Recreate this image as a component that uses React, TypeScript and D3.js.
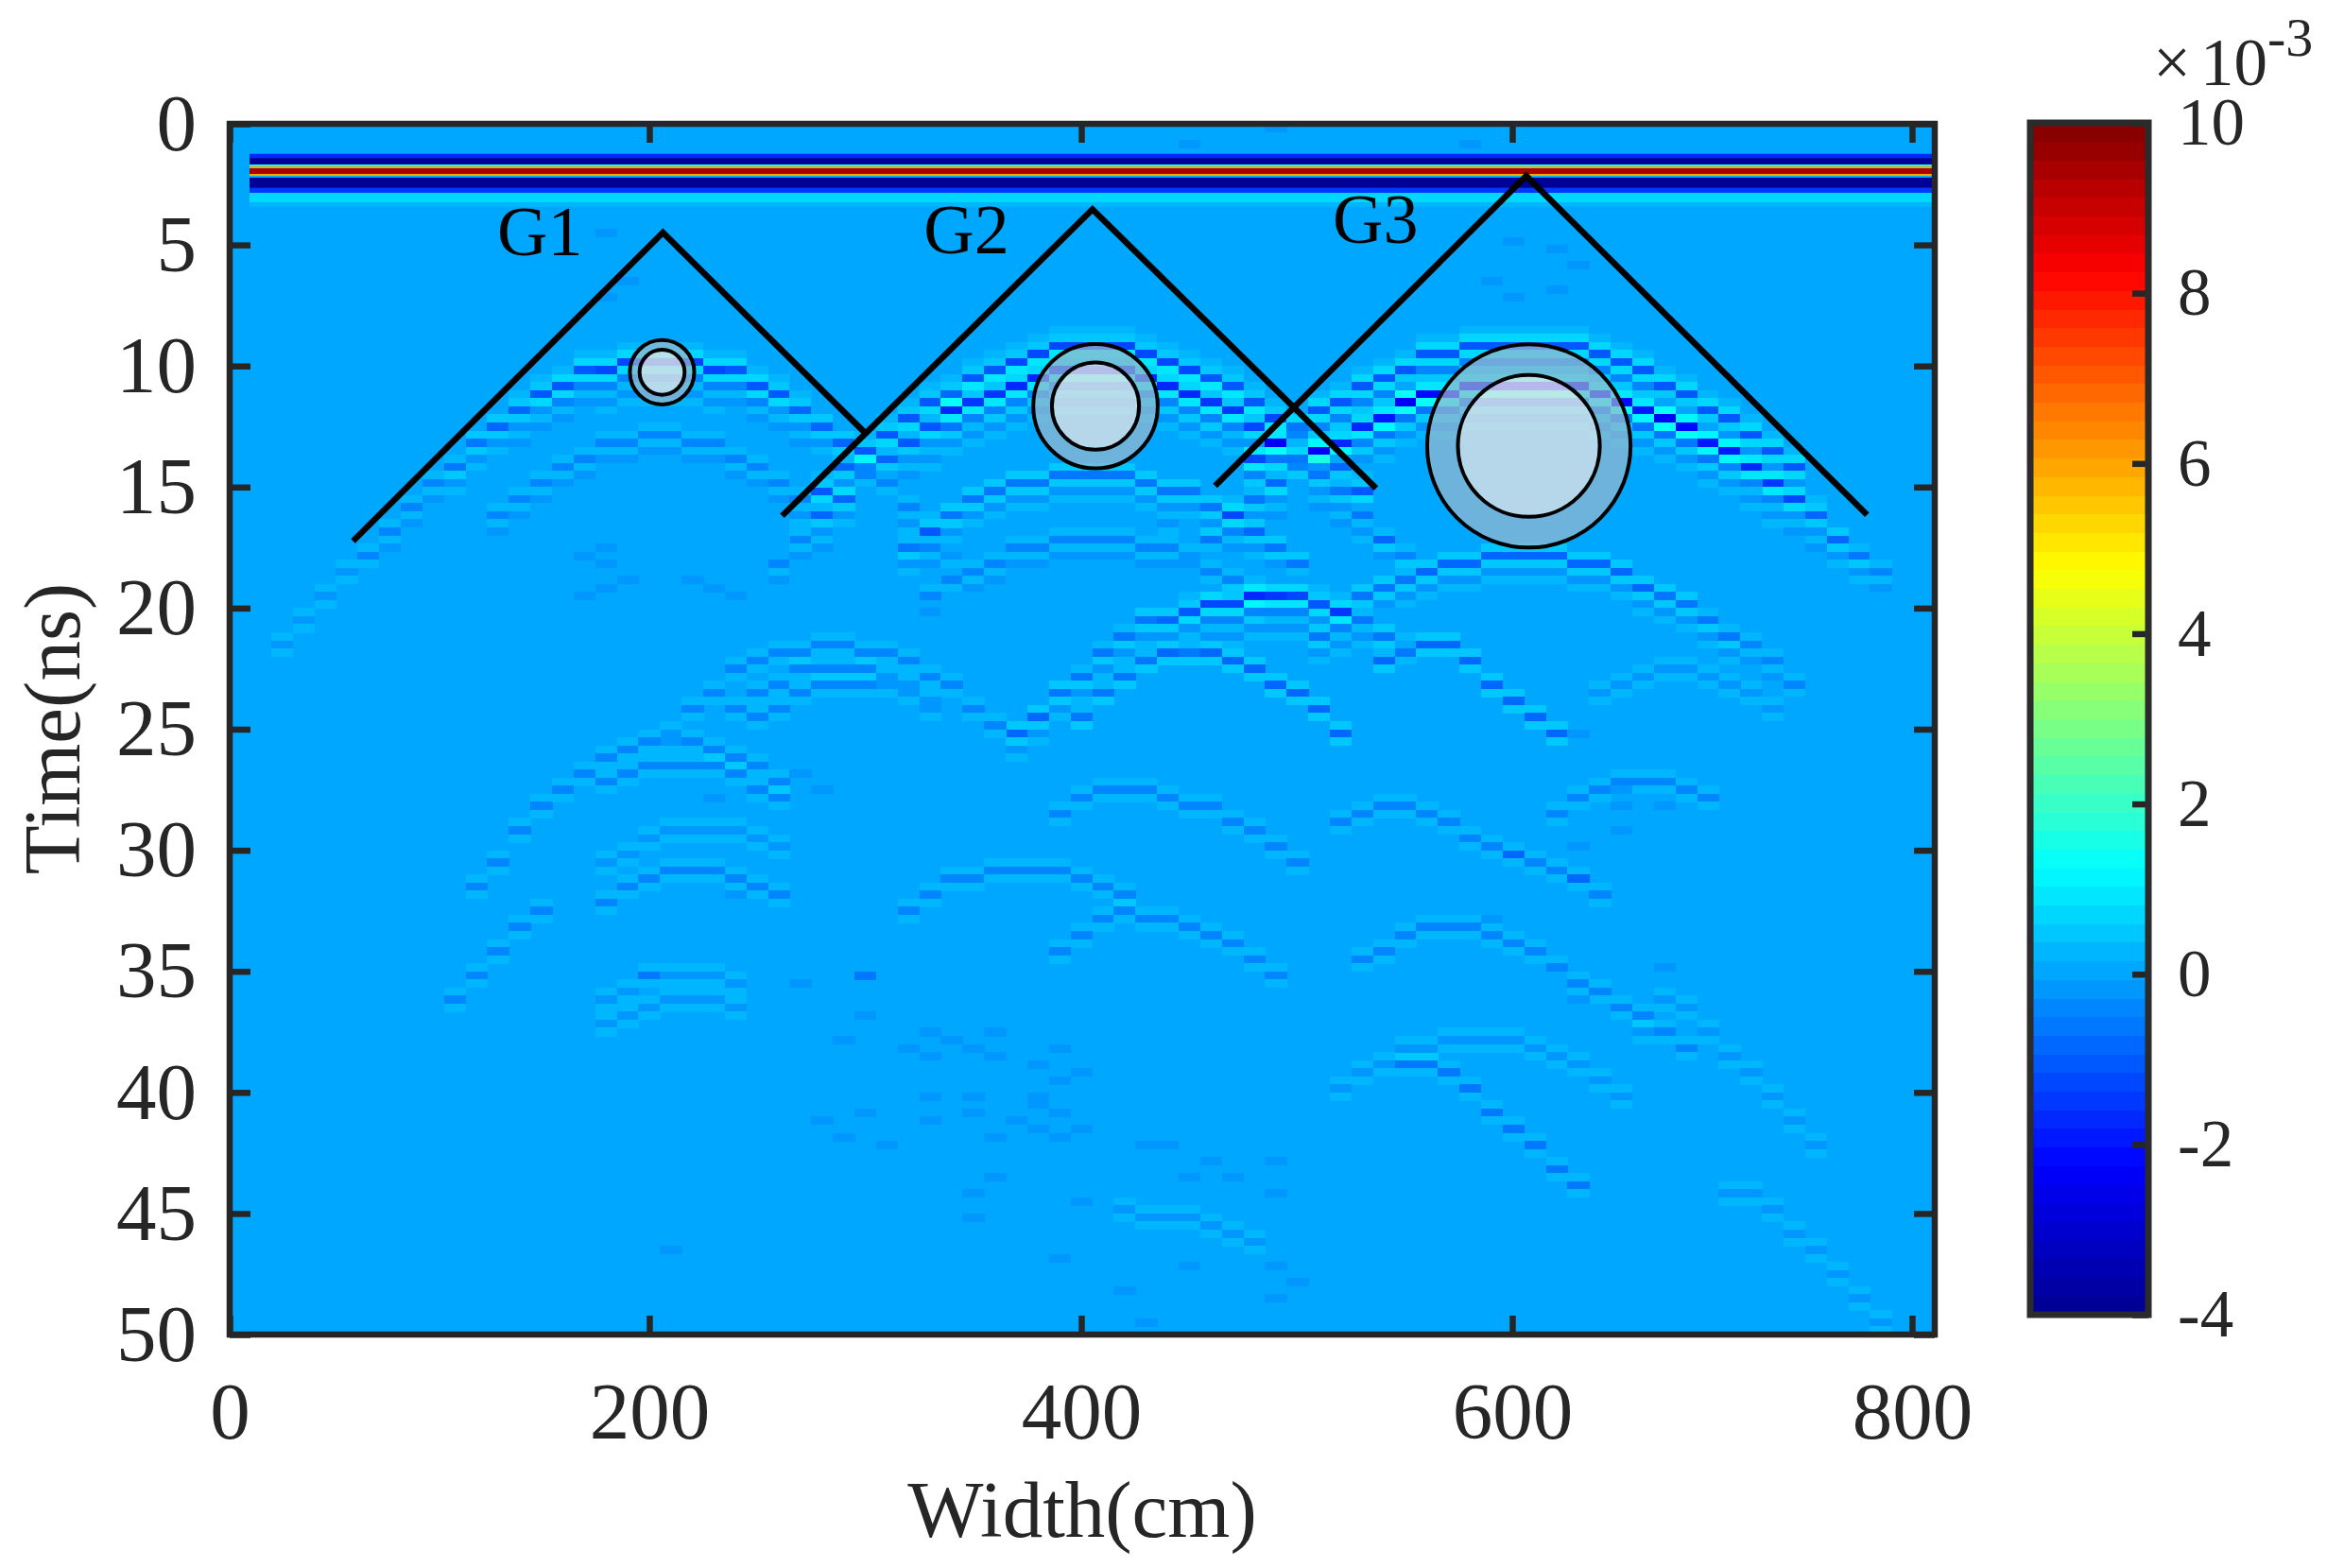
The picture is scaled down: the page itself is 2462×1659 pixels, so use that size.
import { useEffect, useRef } from "react";
import * as d3 from "d3";

type Track = { first: number; times: number[]; amps: number | number[] };

const xTicks = [0, 200, 400, 600, 800];
const yTicks = [0, 5, 10, 15, 20, 25, 30, 35, 40, 45, 50];
const colorTicks = [-4, -2, 0, 2, 4, 6, 8, 10];
const traceCount = 78;
const rowsPerNs = 3;
const backgroundValue = 0.05;

// direct wave, horizontal bands across all traces (ns edges, value x 1e-3)
const directEdges = [1.24, 1.41, 1.68, 1.76, 1.84, 2.07, 2.15, 2.22, 2.65, 2.85, 3.24, 3.43];
const directValues = [-1.6, -3.9, 1.5, 6, 9.5, 6, 0.3, -3.9, -1.5, 0.6, 0.3];

// vertical shape of one reflection, rows relative to its trough
const waveletRows = [-3, -2, -1, 0, 1, 2, 3, 4, 5];
const waveletGains = [-0.08, 0.15, 0.55, -1.2, 0.65, -0.35, 0.22, -0.15, 0.1];
const faintRows = [-1, 0, 1];
const faintGains = [0.45, -1, 0.5];

// arrival time per trace
const g1Echo = [17.7, 16.7, 15.8, 14.9, 14.1, 13.3, 12.5, 11.8, 11.2, 10.7, 10.3, 10.0, 9.8, 9.7, 9.7, 9.8, 10.0, 10.3, 10.7, 11.2, 11.8, 12.5, 13.3, 14.1, 14.9, 15.8, 16.7, 17.7];
const g1Gain = [0.3, 0.35, 0.4, 0.45, 0.55, 0.6, 0.7, 0.8, 0.9, 1, 1, 1.1, 1.1, 1.1, 1.1, 1.1, 1.1, 1, 1, 0.9, 0.8, 0.7, 0.6, 0.55, 0.45, 0.4, 0.35, 0.3];
const g1Multiple = [16.2, 15.4, 14.8, 14.2, 13.7, 13.3, 13.0, 12.9, 12.9, 13.0, 13.3, 13.7, 14.2, 14.8, 15.4, 16.2];
const g1FarLeft = [21.65, 20.6, 19.6, 18.6];

const g2Outer = [15.1, 14.3, 13.6, 12.85, 12.15, 11.55, 11.0, 10.5, 10.05, 9.7, 9.45, 9.3, 9.2, 9.2, 9.3, 9.45, 9.7, 10.0, 10.47, 10.95, 11.5, 12.1, 12.8, 13.5, 14.3, 15.1];
const g2Inner = [18.0, 17.1, 16.2, 15.4, 14.6, 13.9, 13.2, 12.5, 11.95, 11.5, 11.05, 10.7, 10.45, 10.25, 10.15, 10.15, 10.3, 10.45, 10.7, 11.0, 11.4, 11.8, 12.4, 13.1, 13.8, 14.5, 15.3, 16.1, 17.0, 17.9];
const g2InnerGain = [0.35, 0.45, 0.55, 0.65, 0.8, 0.9, 1, 1.1, 1.2, 1.4, 1.5, 1.6, 1.7, 1.7, 1.7, 1.7, 1.7, 1.7, 1.6, 1.6, 1.5, 1.4, 1.3, 1.2, 1.1, 1, 0.8, 0.65, 0.5, 0.4];
const g2MultipleA = [17.4, 16.7, 16.1, 15.6, 15.2, 14.9, 14.7, 14.6, 14.55, 14.55, 14.6, 14.75, 15.0, 15.3, 15.7, 16.2, 16.8, 17.4, 18.1];
const g2MultipleB = [19.5, 18.9, 18.4, 18.0, 17.6, 17.35, 17.2, 17.1, 17.1, 17.2, 17.35, 17.65, 18.0, 18.4, 18.9, 19.5];

const g3Outer = [13.8, 13.1, 12.5, 11.9, 11.35, 10.85, 10.4, 10.0, 9.65, 9.4, 9.2, 9.1, 9.05, 9.05, 9.1, 9.2, 9.45, 9.9, 10.3, 10.7, 11.2, 11.7, 12.3, 12.9, 13.6, 14.3];
const g3Inner = [17.8, 17.0, 16.2, 15.5, 14.9, 14.2, 13.6, 13.1, 12.6, 12.1, 11.6, 11.3, 11.1, 10.95, 10.85, 10.8, 10.8, 10.85, 10.95, 11.1, 11.4, 11.8, 12.2, 12.65, 13.1, 13.6, 14.2, 14.9, 15.5, 16.2, 17.0, 17.8, 18.6];
const g3InnerGain = [0.35, 0.45, 0.55, 0.7, 0.9, 1, 1.2, 1.4, 1.5, 1.7, 1.8, 1.9, 1.9, 1.9, 1.9, 1.9, 1.9, 1.9, 1.9, 1.9, 1.9, 1.8, 1.8, 1.7, 1.6, 1.5, 1.3, 1.1, 0.9, 0.8, 0.65, 0.5, 0.4];
const g3Multiple = [21.0, 20.2, 19.6, 19.1, 18.7, 18.4, 18.2, 18.05, 17.95, 17.9, 17.9, 17.95, 18.05, 18.25, 18.55, 19.0, 19.4, 19.9, 20.4, 21.0, 21.6, 22.3, 23.0];
const g3MultipleGain = [0.5, 0.5, 0.6, 0.6, 0.7, 0.7, 0.7, 0.7, 0.7, 0.7, 0.7, 0.7, 0.7, 0.7, 0.7, 0.7, 0.6, 0.6, 0.5, 0.5, 0.4, 0.4, 0.3];

const arc19 = [25.3, 24.4, 23.6, 22.8, 21.8, 21.0, 20.6, 20.4, 20.2, 19.95, 19.7, 19.6, 19.55, 19.6, 19.75, 20.0, 20.4, 21.0, 21.6];
const arc19Gain = [0.7, 0.7, 0.6, 0.5, 0.5, 0.5, 0.6, 0.7, 0.9, 1, 1.1, 1.2, 1.2, 1.1, 0.9, 0.7, 0.6, 0.5, 0.4];

const arc22 = [24.6, 23.6, 22.8, 22.2, 21.9, 21.8, 21.8, 22.1, 22.6, 23.0, 23.4, 24.1, 25.1];
const arc21 = [22.3, 21.9, 21.6, 21.6, 22.2, 23.2, 23.8, 24.4, 25.2];
const arcLeft22 = [25.0, 24.2, 23.4, 22.6, 22.1, 21.8, 21.7, 21.6, 21.6, 21.7, 21.9, 22.2, 22.7, 23.3, 24.0, 24.8];
const arcLeft23 = [24.0, 23.6, 23.2, 22.6, 22.4, 22.4, 22.5, 22.8, 23.2, 23.7];
const arcLeft24 = [24.6, 24.0, 23.5, 23.2, 23.1, 23.1, 23.3, 23.6, 24.0];
const arc25Steep = [31.5, 30.5, 29.3, 28.3, 27.5, 26.7, 26.2, 25.8, 25.6, 25.5, 25.5, 25.7, 26.0, 26.5, 27.1];
const arc26 = [27.0, 26.7, 26.5, 26.4, 26.4, 26.6, 26.9, 27.4, 27.9];
const arc30 = [32.0, 31.6, 31.1, 30.8, 30.7, 30.85, 31.0, 31.4, 31.9];
const arc29 = [30.4, 30.0, 29.6, 29.3, 29.1, 29.0, 29.1, 29.4, 29.8];
const arc33Left = [36.0, 35.1, 34.2, 33.3, 32.6];
const arc35Upper = [36.1, 35.7, 35.3, 35.2, 35.1, 35.1, 35.4];
const arc36Lower = [37.1, 36.7, 36.4, 36.2, 36.2, 36.3, 36.5];
const arc31 = [32.5, 31.8, 31.3, 31.0, 30.8, 30.7, 30.7, 30.8, 31.0, 31.4, 31.9];
const arc28 = [28.5, 27.9, 27.6, 27.5, 27.6, 27.8, 28.0, 28.3, 28.7, 29.2, 29.8, 30.4];
const arc30Right = [28.7, 28.4, 28.3, 28.3, 28.5, 28.9, 29.4, 29.9, 30.2, 30.5, 30.9, 31.3, 31.9];
const arc33 = [34.0, 33.4, 32.9, 32.6, 32.7, 32.9, 33.1, 33.4, 33.8, 34.4, 35.0];
const arc33Right = [34.6, 34.0, 33.6, 33.3, 33.1, 33.2, 33.4, 33.8, 34.3, 34.9, 35.4, 35.9, 36.4, 36.9, 37.4, 38.1];
const arc23Right = [23.4, 23.0, 22.7, 22.5, 22.5, 22.7, 23.0, 23.5, 24.2];
const arc27Right = [28.4, 27.9, 27.5, 27.3, 27.2, 27.2, 27.4, 27.8];
const arc36Right = [37.5, 36.1, 36.5, 37.5, 38.4, 39.2, 40.2, 41.3, 42.2];
const arc39Diagonal = [38.8, 38.8, 39.2, 39.8, 40.7, 41.4, 42.2, 43.0, 43.7];
const arc38Right = [39.8, 39.2, 38.7, 38.3, 38.0, 37.8, 37.7, 37.7, 37.8, 38.0, 38.4, 38.9, 39.5, 40.2];
const arc44Right = [44.1, 44.1, 44.8, 45.8, 46.6, 47.5, 48.4, 49.4];
const arc45Middle = [44.7, 45.1, 45.2, 45.3, 45.6, 45.9, 46.2];

const tracks: Track[] = [
  { first: 5, times: g1Echo, amps: g1Gain },
  { first: 11, times: g1Multiple, amps: 0.35 },
  { first: 26, times: g2Outer, amps: 0.9 },
  { first: 24, times: g2Inner, amps: g2InnerGain },
  { first: 30, times: g2MultipleA, amps: 0.6 },
  { first: 31, times: g2MultipleB, amps: 0.35 },
  { first: 46, times: g3Outer, amps: 1 },
  { first: 43, times: g3Inner, amps: g3InnerGain },
  { first: 49, times: g3Multiple, amps: g3MultipleGain },
  { first: 35, times: arc19, amps: arc19Gain },
];

const faintTracks: Track[] = [
  { first: 1, times: g1FarLeft, amps: 0.3 },
  { first: 38, times: arc22, amps: 0.8 },
  { first: 52, times: arc21, amps: 0.9 },
  { first: 19, times: arcLeft22, amps: 0.45 },
  { first: 22, times: arcLeft23, amps: 0.4 },
  { first: 23, times: arcLeft24, amps: 0.4 },
  { first: 10, times: arc25Steep, amps: 0.4 },
  { first: 16, times: arc26, amps: 0.35 },
  { first: 16, times: arc30, amps: 0.4 },
  { first: 16, times: arc29, amps: 0.25 },
  { first: 9, times: arc33Left, amps: 0.35 },
  { first: 16, times: arc35Upper, amps: 0.3 },
  { first: 16, times: arc36Lower, amps: 0.3 },
  { first: 30, times: arc31, amps: 0.45 },
  { first: 37, times: arc28, amps: 0.55 },
  { first: 50, times: arc30Right, amps: 0.55 },
  { first: 37, times: arc33, amps: 0.5 },
  { first: 51, times: arc33Right, amps: 0.55 },
  { first: 62, times: arc23Right, amps: 0.3 },
  { first: 60, times: arc27Right, amps: 0.35 },
  { first: 64, times: arc36Right, amps: 0.3 },
  { first: 53, times: arc39Diagonal, amps: 0.6 },
  { first: 50, times: arc38Right, amps: 0.3 },
  { first: 68, times: arc44Right, amps: 0.3 },
  { first: 40, times: arc45Middle, amps: 0.3 },
];

// isolated darker cells (trace, ns)
const speckTraces = [58, 60, 61, 57, 58, 60, 47, 43, 56, 17, 16, 16, 25, 28, 27, 28, 30, 31, 31, 32, 33, 34, 34, 37, 36, 38, 37, 36, 36, 37, 36, 38, 37, 34, 35, 33, 31, 31, 33, 28, 26, 27, 29, 38, 43, 45, 47, 44, 41, 42, 34, 33, 33, 47, 47, 48, 47, 43, 37, 19, 41, 40, 61, 63, 65, 63, 63, 61, 61, 58, 57, 65, 60, 61, 18, 28, 22, 21, 26, 25, 31, 22, 24, 31, 52, 16, 15, 16, 17, 16, 15, 20, 21];
const speckTimes = [4.8, 5.3, 5.7, 6.6, 7, 6.9, 0.3, 0.7, 0.7, 6.6, 7.1, 4.45, 35.6, 35.3, 37.8, 36.8, 38, 37.4, 38.6, 37.7, 38.3, 38.4, 37.6, 38.1, 38.9, 39, 39.6, 40, 40.6, 40.7, 41.5, 41.5, 41.9, 41.9, 41, 40.8, 41, 40.3, 40.1, 40.8, 41.1, 41.7, 42.3, 44.4, 43.5, 43.4, 42.8, 42.8, 42.3, 42.3, 43.6, 44.3, 45.1, 44, 47.2, 47.9, 48.4, 47, 46.8, 46.5, 49.4, 48.2, 25.2, 27.4, 28.2, 28.3, 29, 29.7, 31.2, 30.1, 32.9, 34.7, 35.3, 36, 35.2, 35.3, 31.8, 27.8, 27.5, 26.9, 19.7, 19.5, 17.7, 17, 17.3, 17.5, 17.85, 18.1, 18.95, 19.2, 19.5, 18.95, 19.2];
const speckValue = -0.3;

// pipe markers: centre in cm and ns, radii in ns
const pipeWidths = [205.9, 406.6, 608.3];
const pipeTimes = [10.26, 11.66, 13.3];
const pipeOuter = [1.33, 2.57, 4.2];
const pipeInner = [0.93, 1.8, 2.93];

const bracketNames = ["G1", "G2", "G3"];
const bracketWidths = [
  [58.8, 206.3, 299.3],
  [261.5, 405.2, 536.8],
  [462.1, 607, 777.5],
];
const bracketTimes = [
  [17.23, 4.49, 12.71],
  [16.19, 3.53, 15.05],
  [14.95, 2.15, 16.15],
];
const labelWidths = [127.5, 327, 516.7];
const labelTimes = [5.42, 5.35, 4.92];

const ink = "#262626";
const serif = "'Liberation Serif', serif";

export default function App() {
  const svgRef = useRef<SVGSVGElement | null>(null);

  useEffect(() => {
    if (!svgRef.current) return;

    const plot = { left: 243, right: 2047, top: 131, bottom: 1412, dataLeft: 264 };
    const bar = { left: 2148, right: 2273, top: 130, bottom: 1391 };

    // the printed ticks are not evenly spaced in the figure
    const x = d3.scaleLinear().domain(xTicks).range([243, 687, 1144, 1600, 2023]);
    const y = d3.scaleLinear().domain([0, 50]).range([plot.top, plot.bottom]);
    const trace = d3
      .scaleBand<number>()
      .domain(d3.range(traceCount))
      .range([plot.dataLeft, plot.right]);

    const jet = d3
      .scaleLinear<string>()
      .domain([0, 0.125, 0.375, 0.625, 0.875, 1])
      .range(["#00008f", "#0000ff", "#00ffff", "#ffff00", "#ff0000", "#800000"]);
    const color = d3
      .scaleQuantize<string>()
      .domain([-4, 10])
      .range(d3.range(64).map((i) => jet((i + 0.5) / 64)));

    const svg = d3.select(svgRef.current);
    svg.selectAll("*").remove();

    svg
      .append("rect")
      .attr("x", plot.left)
      .attr("y", plot.top)
      .attr("width", plot.right - plot.left)
      .attr("height", plot.bottom - plot.top)
      .attr("fill", color(backgroundValue));

    // stack the reflections into trace/row cells
    const cells = new Map<string, { col: number; row: number; value: number }>();
    const addCell = (col: number, row: number, value: number) => {
      const key = `${col}-${row}`;
      const cell = cells.get(key) ?? { col, row, value: backgroundValue };
      cell.value += value;
      cells.set(key, cell);
    };
    const stamp = (list: Track[], rows: number[], gains: number[]) => {
      list.forEach((track) => {
        track.times.forEach((t, i) => {
          const amp = typeof track.amps === "number" ? track.amps : track.amps[i];
          const base = Math.floor(t * rowsPerNs);
          rows.forEach((offset, k) => addCell(track.first + i, base + offset, amp * gains[k]));
        });
      });
    };
    stamp(tracks, waveletRows, waveletGains);
    stamp(faintTracks, faintRows, faintGains);
    speckTraces.forEach((col, i) => addCell(col, Math.floor(speckTimes[i] * rowsPerNs), speckValue));

    svg
      .append("g")
      .attr("shape-rendering", "crispEdges")
      .selectAll("rect")
      .data(Array.from(cells.values()))
      .join("rect")
      .attr("x", (d) => trace(d.col)!)
      .attr("y", (d) => y(d.row / rowsPerNs))
      .attr("width", trace.bandwidth() + 0.5)
      .attr("height", y(1 / rowsPerNs) - y(0) + 0.5)
      .attr("fill", (d) => color(d.value));

    svg
      .append("g")
      .selectAll("rect")
      .data(directValues)
      .join("rect")
      .attr("x", plot.dataLeft)
      .attr("width", plot.right - plot.dataLeft)
      .attr("y", (_, i) => y(directEdges[i]))
      .attr("height", (_, i) => y(directEdges[i + 1]) - y(directEdges[i]))
      .attr("fill", (d) => color(d));

    // pipes are semi transparent, the reflections show through them
    const ring = d3.arc<any>();
    const nsToPx = (ns: number) => y(ns) - y(0);
    pipeWidths.forEach((w, i) => {
      const cx = x(w);
      const cy = y(pipeTimes[i]);
      svg
        .append("path")
        .attr("transform", `translate(${cx},${cy})`)
        .attr(
          "d",
          ring({
            innerRadius: nsToPx(pipeInner[i]),
            outerRadius: nsToPx(pipeOuter[i]),
            startAngle: 0,
            endAngle: 2 * Math.PI,
          })
        )
        .attr("fill", "#9cb8cc")
        .attr("fill-opacity", 0.7);
      svg
        .append("circle")
        .attr("cx", cx)
        .attr("cy", cy)
        .attr("r", nsToPx(pipeInner[i]))
        .attr("fill", "#e3e3e5")
        .attr("fill-opacity", 0.8)
        .attr("stroke", "#000")
        .attr("stroke-width", 4);
      svg
        .append("circle")
        .attr("cx", cx)
        .attr("cy", cy)
        .attr("r", nsToPx(pipeOuter[i]))
        .attr("fill", "none")
        .attr("stroke", "#000")
        .attr("stroke-width", 4);
    });

    const bracket = d3
      .line<[number, number]>()
      .x((d) => x(d[0]))
      .y((d) => y(d[1]));
    bracketWidths.forEach((widths, i) => {
      svg
        .append("path")
        .attr("d", bracket(d3.zip(widths, bracketTimes[i]) as [number, number][]))
        .attr("fill", "none")
        .attr("stroke", "#000")
        .attr("stroke-width", 6.5);
      svg
        .append("text")
        .attr("x", x(labelWidths[i]))
        .attr("y", y(labelTimes[i]))
        .attr("font-family", serif)
        .attr("font-size", 74)
        .attr("fill", "#000")
        .text(bracketNames[i]);
    });

    const styleAxis = (g: d3.Selection<SVGGElement, unknown, null, undefined>, size: number) => {
      g.select(".domain").remove();
      g.selectAll("line").attr("stroke", ink).attr("stroke-width", 6.5);
      g.selectAll("text")
        .attr("font-family", serif)
        .attr("font-size", size)
        .attr("fill", ink);
    };

    svg
      .append("g")
      .attr("transform", `translate(${plot.left},0)`)
      .call(d3.axisLeft(y).tickValues(yTicks).tickSize(-22).tickPadding(35))
      .call(styleAxis, 85);
    svg
      .append("g")
      .attr("transform", `translate(${plot.right},0)`)
      .call(d3.axisRight(y).tickValues(yTicks).tickSize(-22).tickFormat(() => ""))
      .call(styleAxis, 85);
    svg
      .append("g")
      .attr("transform", `translate(0,${plot.bottom})`)
      .call(d3.axisBottom(x).tickValues(xTicks).tickSize(-20).tickPadding(50))
      .call(styleAxis, 85);
    svg
      .append("g")
      .attr("transform", `translate(0,${plot.top})`)
      .call(d3.axisTop(x).tickValues(xTicks).tickSize(-20).tickFormat(() => ""))
      .call(styleAxis, 85);

    svg
      .append("rect")
      .attr("x", plot.left)
      .attr("y", plot.top)
      .attr("width", plot.right - plot.left)
      .attr("height", plot.bottom - plot.top)
      .attr("fill", "none")
      .attr("stroke", ink)
      .attr("stroke-width", 6.5);

    svg
      .append("text")
      .attr("x", 1145)
      .attr("y", 1626)
      .attr("text-anchor", "middle")
      .attr("font-family", serif)
      .attr("font-size", 85)
      .attr("fill", ink)
      .text("Width(cm)");
    svg
      .append("text")
      .attr("transform", "translate(84,771) rotate(-90)")
      .attr("text-anchor", "middle")
      .attr("font-family", serif)
      .attr("font-size", 85)
      .attr("fill", ink)
      .text("Time(ns)");

    // colorbar
    const barY = d3.scaleLinear().domain([-4, 10]).range([bar.bottom, bar.top]);
    const levels = d3.range(64).map((i) => -4 + (i * 14) / 64);
    svg
      .append("g")
      .attr("shape-rendering", "crispEdges")
      .selectAll("rect")
      .data(levels)
      .join("rect")
      .attr("x", bar.left)
      .attr("width", bar.right - bar.left)
      .attr("y", (d) => barY(d + 14 / 64))
      .attr("height", (d) => barY(d) - barY(d + 14 / 64) + 0.5)
      .attr("fill", (d) => color(d + 7 / 64));
    svg
      .append("g")
      .attr("transform", `translate(${bar.right},0)`)
      .call(
        d3
          .axisRight(barY)
          .tickValues(colorTicks)
          .tickSize(-17)
          .tickPadding(31)
          .tickFormat((d) => String(d))
      )
      .call(styleAxis, 71);
    svg
      .append("rect")
      .attr("x", bar.left)
      .attr("y", bar.top)
      .attr("width", bar.right - bar.left)
      .attr("height", bar.bottom - bar.top)
      .attr("fill", "none")
      .attr("stroke", "#2b2b2b")
      .attr("stroke-width", 7);

    const exponent = svg
      .append("text")
      .attr("x", 2278)
      .attr("y", 90)
      .attr("font-family", serif)
      .attr("font-size", 71)
      .attr("fill", ink);
    exponent.append("tspan").text("×");
    exponent.append("tspan").attr("dx", 10).text("10");
    exponent.append("tspan").attr("font-size", 58).attr("dx", 0).attr("dy", -31).text("-3");
  }, []);

  return (
    <svg
      ref={svgRef}
      width={2462}
      height={1659}
      style={{ position: "absolute", left: 0, top: 0, background: "#fff" }}
    />
  );
}
